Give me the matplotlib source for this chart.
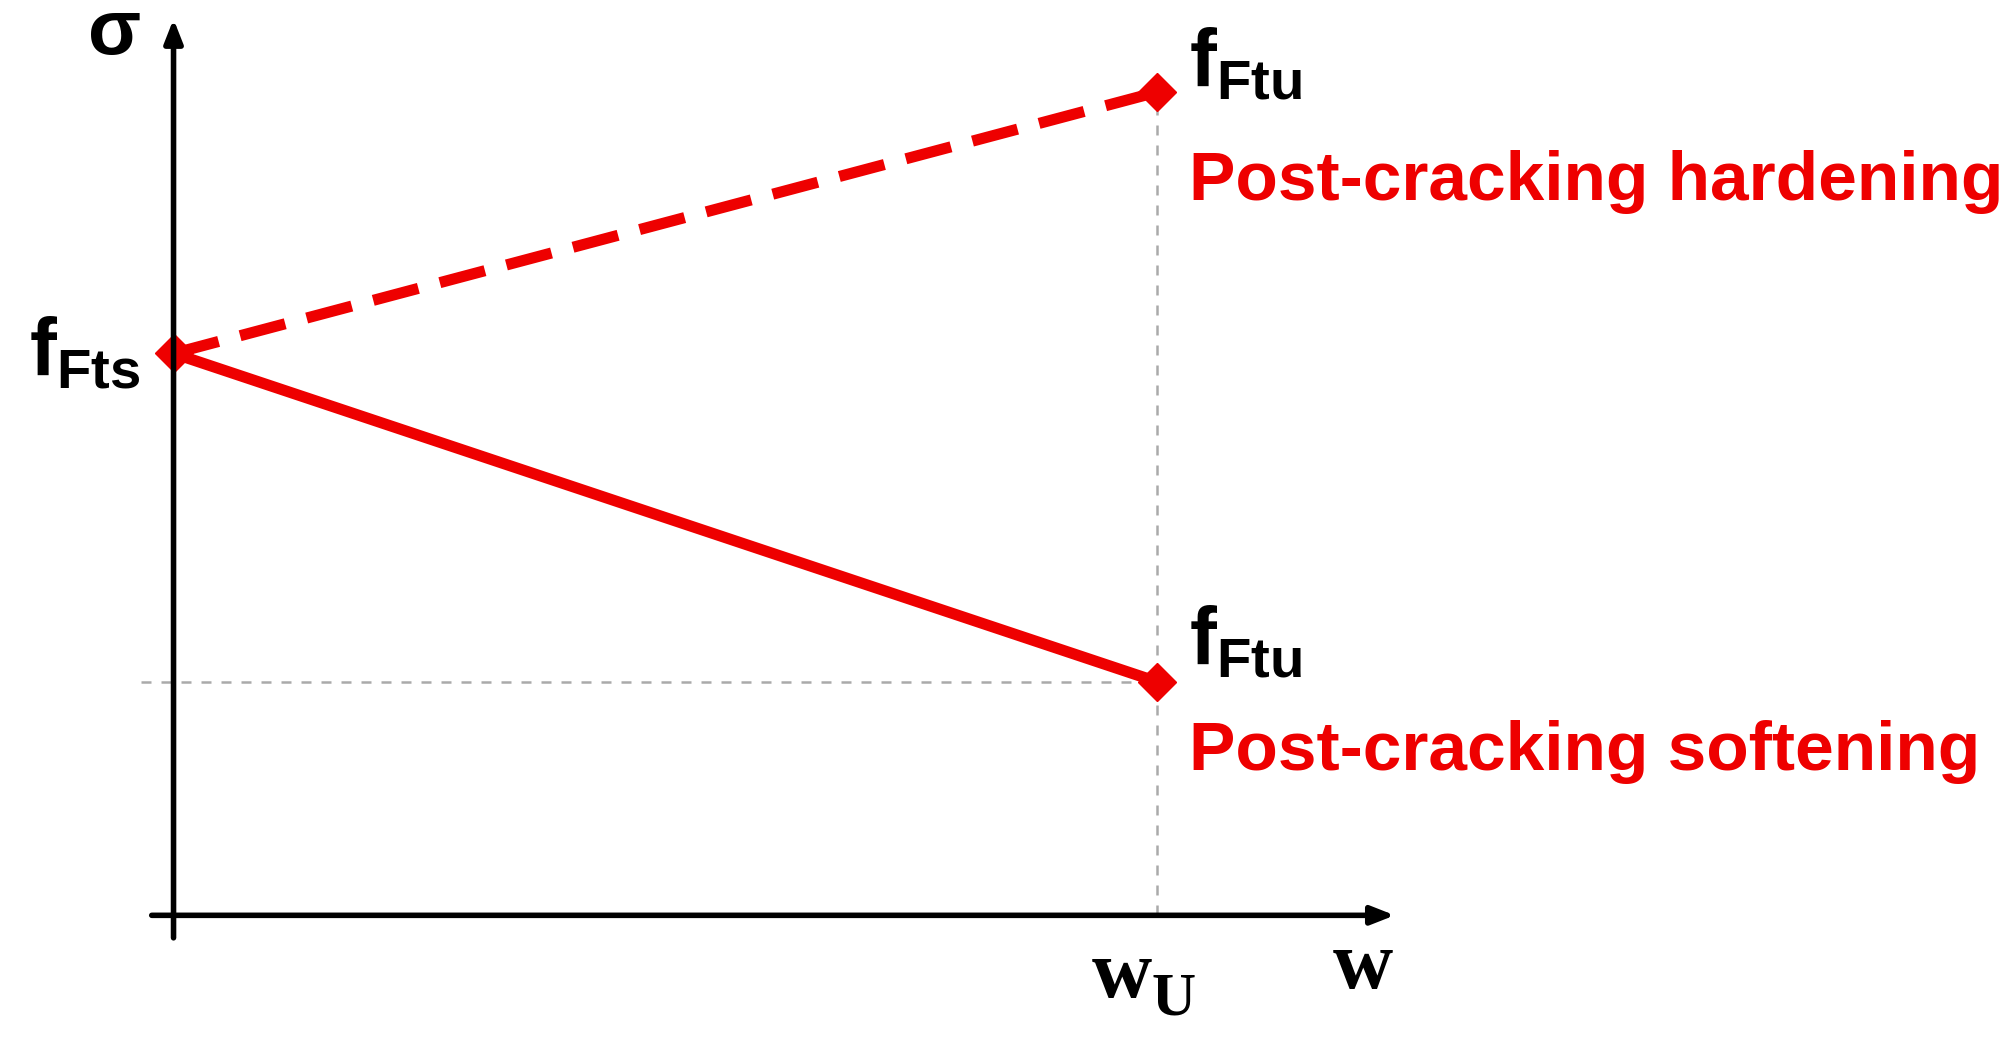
import matplotlib
matplotlib.use('Agg')
import matplotlib.pyplot as plt

# data (w normalised to w_U = 1, sigma normalised to f_Fts = 1)
w_pts = [0.0, 1.0]
softening = [1.0, 0.416]
hardening = [1.0, 1.465]

plt.rcParams['mathtext.fontset'] = 'custom'
plt.rcParams['mathtext.bf'] = 'Liberation Sans:bold'
plt.rcParams['mathtext.rm'] = 'Liberation Sans'

fig = plt.figure(figsize=(20.15, 10.44), dpi=100)
ax = fig.add_axes([0, 0, 1, 1])
ax.set_xlim(-0.1765, 1.873)
ax.set_ylim(-0.229, 1.629)
ax.axis('off')

red = '#ee0000'
# axes arrows
ax.annotate('', xy=(1.245, 0), xytext=(-0.025, 0),
            arrowprops=dict(arrowstyle='-|>,head_length=1.4,head_width=0.55', color='black', lw=4))
ax.annotate('', xy=(0, 1.6), xytext=(0, -0.045),
            arrowprops=dict(arrowstyle='-|>,head_length=1.4,head_width=0.55', color='black', lw=4))

# guide lines
ax.plot([1, 1], [0, hardening[1]], color='#aaaaaa', ls=(0, (4, 4)), lw=1.8)
ax.plot([-0.033, 1], [softening[1], softening[1]], color='#aaaaaa', ls=(0, (4, 4)), lw=1.8)

ax.plot(w_pts, softening, color=red, lw=8, solid_capstyle='butt')
ax.plot(w_pts, hardening, color=red, lw=8, ls=(0, (4.2, 2.0)))
ax.plot(w_pts, softening, 'D', color=red, ms=19)
ax.plot([1], [hardening[1]], 'D', color=red, ms=19)

lab = dict(fontsize=58, color='black')
ax.text(-0.09, 1.0, r'$\mathbf{f}_{\mathbf{Fts}}$', ha='center', va='center', **lab)
ax.text(1.033, hardening[1] + 0.05, r'$\mathbf{f}_{\mathbf{Ftu}}$', ha='left', va='center', **lab)
ax.text(1.033, softening[1] + 0.07, r'$\mathbf{f}_{\mathbf{Ftu}}$', ha='left', va='center', **lab)
ax.text(-0.06, 1.57, 'σ', fontsize=56, fontweight='bold', family='Liberation Sans', ha='center', va='center')

serif = dict(fontweight='bold', family='Liberation Serif', color='black')
ax.text(0.995, -0.11, 'w', fontsize=60, ha='right', va='center', **serif)
ax.text(0.995, -0.15, 'U', fontsize=44, ha='left', va='center', **serif)
ax.text(1.21, -0.095, 'w', fontsize=60, ha='center', va='center', **serif)

ax.text(1.033, 1.305, 'Post-cracking hardening', fontsize=50, fontweight='bold',
        family='Liberation Sans', color=red, ha='left', va='center')
ax.text(1.033, 0.29, 'Post-cracking softening', fontsize=50, fontweight='bold',
        family='Liberation Sans', color=red, ha='left', va='center')

fig.savefig('out.png', dpi=100)
